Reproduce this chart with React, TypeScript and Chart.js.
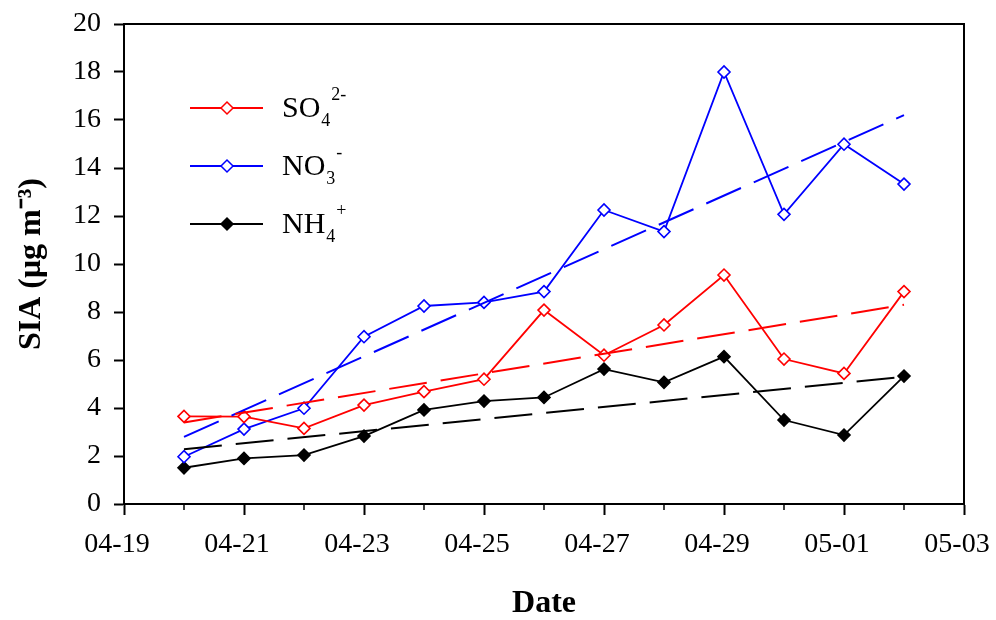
import React, { useEffect, useRef } from 'react';
import { Chart, registerables } from 'chart.js';

Chart.register(...registerables);

// Sampling dates and their offset (days after 04-19)
const dates = ['04-20', '04-21', '04-22', '04-23', '04-24', '04-25', '04-26', '04-27', '04-28', '04-29', '04-30', '05-01', '05-02'];
const dayOffsets = [1, 2, 3, 4, 5, 6, 7, 8, 9, 10, 11, 12, 13];

// Concentrations (µg m-3)
const so4 = [3.65, 3.64, 3.15, 4.12, 4.68, 5.2, 8.08, 6.2, 7.46, 9.54, 6.04, 5.44, 8.85];
const no3 = [1.97, 3.12, 3.99, 6.97, 8.25, 8.4, 8.85, 12.25, 11.35, 18.0, 12.07, 14.99, 13.33];
const nh4 = [1.51, 1.9, 2.04, 2.83, 3.92, 4.29, 4.44, 5.62, 5.07, 6.14, 3.5, 2.87, 5.33];

// Linear trend lines (end points)
const trendDays = [1, 13];
const so4Trend = [3.4, 8.3];
const no3Trend = [2.8, 16.2];
const nh4Trend = [2.28, 5.3];

// Axis tick labels
const xMajorLabels = ['04-19', '04-21', '04-23', '04-25', '04-27', '04-29', '05-01', '05-03'];
const yTicks = [0, 2, 4, 6, 8, 10, 12, 14, 16, 18, 20];

const SERIF = "'Liberation Serif', 'Times New Roman', serif";

const legendItems = [
  { base: 'SO', sub: '4', sup: '2-', color: '#ff0000', fill: '#ffffff' },
  { base: 'NO', sub: '3', sup: '-', color: '#0000ff', fill: '#ffffff' },
  { base: 'NH', sub: '4', sup: '+', color: '#000000', fill: '#000000' },
];

function pts(xs: number[], ys: number[]) {
  return xs.map((x, i) => ({ x, y: ys[i] }));
}

const framePlugin = {
  id: 'frameAndLegend',
  afterDraw(chart: any) {
    const { ctx, chartArea } = chart;
    const xScale = chart.scales.x;
    ctx.save();
    // top and right frame
    ctx.strokeStyle = '#000';
    ctx.lineWidth = 2;
    ctx.beginPath();
    ctx.moveTo(chartArea.left, chartArea.top);
    ctx.lineTo(chartArea.right, chartArea.top);
    ctx.lineTo(chartArea.right, chartArea.bottom);
    ctx.stroke();
    // minor x ticks
    ctx.lineWidth = 1.5;
    for (let v = 1; v < 14; v += 2) {
      const px = Math.round(xScale.getPixelForValue(v));
      ctx.beginPath();
      ctx.moveTo(px, chartArea.bottom);
      ctx.lineTo(px, chartArea.bottom + 6);
      ctx.stroke();
    }
    // legend
    const lx0 = 190, lx1 = 263, mx = 227, textX = 282;
    legendItems.forEach((it, i) => {
      const y = 108 + i * 58;
      ctx.strokeStyle = it.color;
      ctx.lineWidth = 2;
      ctx.beginPath();
      ctx.moveTo(lx0, y);
      ctx.lineTo(lx1, y);
      ctx.stroke();
      const r = 6;
      ctx.lineWidth = 1.5;
      ctx.beginPath();
      ctx.moveTo(mx - r, y);
      ctx.lineTo(mx, y - r);
      ctx.lineTo(mx + r, y);
      ctx.lineTo(mx, y + r);
      ctx.closePath();
      ctx.fillStyle = it.fill;
      ctx.fill();
      ctx.stroke();
      const base = y + 9;
      ctx.fillStyle = '#000';
      ctx.textBaseline = 'alphabetic';
      ctx.textAlign = 'left';
      ctx.font = `30px ${SERIF}`;
      ctx.fillText(it.base, textX, base);
      const w = ctx.measureText(it.base).width;
      ctx.font = `18px ${SERIF}`;
      ctx.fillText(it.sub, textX + w + 1, base + 9);
      const ws = ctx.measureText(it.sub).width;
      ctx.fillText(it.sup, textX + w + ws + 2, base - 17);
    });
    ctx.restore();
  },
};

export default function App() {
  const ref = useRef<HTMLCanvasElement | null>(null);
  useEffect(() => {
    if (!ref.current) return;
    const trend = (label: string, ys: number[], color: string) => ({
      label,
      data: pts(trendDays, ys),
      borderColor: color,
      borderWidth: 2,
      borderDash: [38, 14],
      pointRadius: 0,
      fill: false,
    });
    const series = (label: string, ys: number[], color: string, fill: string) => ({
      label,
      data: pts(dayOffsets, ys),
      borderColor: color,
      borderWidth: 1.8,
      pointStyle: 'rectRot',
      pointRadius: 6,
      pointBorderWidth: 1.6,
      pointBackgroundColor: fill,
      pointBorderColor: color,
      fill: false,
    });
    const chart = new Chart(ref.current, {
      type: 'line',
      data: {
        datasets: [
          trend('SO4 trend', so4Trend, '#ff0000'),
          trend('NO3 trend', no3Trend, '#0000ff'),
          trend('NH4 trend', nh4Trend, '#000000'),
          series('SO₄²⁻', so4, '#ff0000', '#ffffff'),
          series('NO₃⁻', no3, '#0000ff', '#ffffff'),
          series('NH₄⁺', nh4, '#000000', '#000000'),
        ] as any,
      },
      options: {
        responsive: false,
        animation: false,
        layout: { padding: { left: 0, top: 24, right: 32, bottom: 0 } },
        plugins: {
          legend: { display: false },
          tooltip: { enabled: false },
        },
        scales: {
          x: {
            type: 'linear',
            min: 0,
            max: 14,
            afterFit: (s: any) => {
              s.height = 116;
              s.paddingLeft = 0;
              s.paddingRight = 0;
            },
            afterBuildTicks: (s: any) => {
              s.ticks = Array.from({ length: 15 }, (_, i) => ({ value: i }));
            },
            ticks: {
              autoSkip: false,
              maxRotation: 0,
              padding: 13,
              labelOffset: -7,
              color: '#000',
              font: { family: SERIF, size: 28 },
              callback: (v: any) => (Number(v) % 2 === 0 ? xMajorLabels[Number(v) / 2] : ''),
            },
            grid: {
              display: true,
              drawOnChartArea: false,
              tickLength: 11,
              tickWidth: 2,
              tickColor: (c: any) => (c.tick && c.tick.value % 2 === 0 ? '#000' : 'rgba(0,0,0,0)'),
            },
            border: { display: true, color: '#000', width: 2 },
            title: {
              display: true,
              text: 'Date',
              color: '#000',
              font: { family: SERIF, size: 32, weight: 'bold', lineHeight: 1 },
              padding: { top: 0, bottom: 0 },
            },
          },
          y: {
            type: 'linear',
            min: 0,
            max: 20,
            afterFit: (s: any) => {
              s.width = 124;
              s.paddingTop = 0;
              s.paddingBottom = 0;
            },
            afterBuildTicks: (s: any) => {
              s.ticks = yTicks.map((v) => ({ value: v }));
            },
            ticks: {
              padding: 13,
              color: '#000',
              font: { family: SERIF, size: 28 },
            },
            grid: {
              display: true,
              drawOnChartArea: false,
              tickLength: 10,
              tickWidth: 2,
              tickColor: '#000',
            },
            border: { display: true, color: '#000', width: 2 },
            title: {
              display: true,
              text: 'SIA (μg m⁻³)',
              color: '#000',
              font: { family: SERIF, size: 32, weight: 'bold', lineHeight: 1 },
              padding: { top: 16, bottom: 0 },
            },
          },
        },
      },
      plugins: [framePlugin],
    });
    return () => chart.destroy();
  }, []);

  return (
    <div style={{ position: 'absolute', left: 0, top: 0, width: 996, height: 620, background: '#fff' }}>
      <canvas ref={ref} width={996} height={620} style={{ width: 996, height: 620, display: 'block' }} />
    </div>
  );
}
